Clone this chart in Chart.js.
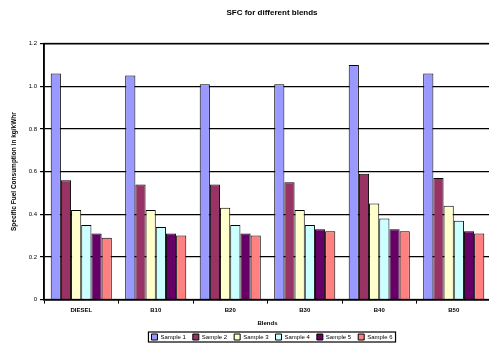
<!DOCTYPE html>
<html>
<head>
<meta charset="utf-8">
<script src="https://cdn.jsdelivr.net/npm/chart.js@4/dist/chart.umd.min.js"></script>
<style>
  html, body { margin: 0; padding: 0; background: #fff; overflow: hidden; }
  #wrap { width: 534px; height: 350px; }
</style>
</head>
<body>
<div id="wrap"><canvas id="myChart" width="534" height="350"></canvas></div>
<script>
// data
const blends = ["DIESEL", "B10", "B20", "B30", "B40", "B50"];
const seriesNames = ["Sample 1", "Sample 2", "Sample 3", "Sample 4", "Sample 5", "Sample 6"];
const sample1 = [1.06, 1.05, 1.01, 1.01, 1.10, 1.06];
const sample2 = [0.56, 0.54, 0.54, 0.55, 0.59, 0.57];
const sample3 = [0.42, 0.42, 0.43, 0.42, 0.45, 0.44];
const sample4 = [0.35, 0.34, 0.35, 0.35, 0.38, 0.37];
const sample5 = [0.31, 0.31, 0.31, 0.33, 0.33, 0.32];
const sample6 = [0.29, 0.30, 0.30, 0.32, 0.32, 0.31];
const yTicks = [0, 0.2, 0.4, 0.6, 0.8, 1, 1.2];

const colors = ["#9999FF", "#993366", "#FFFFCC", "#CCFFFF", "#660066", "#FF8080"];
const allSeries = [sample1, sample2, sample3, sample4, sample5, sample6];

// kotak di sekeliling area plot dan legenda
const boxPlugin = {
    id: "boxes",
    afterDraw(chart) {
        const ctx = chart.ctx;
        const a = chart.chartArea;
        ctx.save();
        ctx.strokeStyle = "#000";
        ctx.lineWidth = 1.5;
        ctx.strokeRect(a.left, a.top, a.right - a.left, a.bottom - a.top);
        const lg = chart.legend;
        if (lg && lg.legendHitBoxes && lg.legendHitBoxes.length) {
            const boxes = lg.legendHitBoxes;
            const x0 = boxes[0].left - 3;
            const last = boxes[boxes.length - 1];
            const x1 = last.left + last.width + 3;
            const y0 = boxes[0].top - 2;
            const y1 = boxes[0].top + boxes[0].height + 2;
            ctx.lineWidth = 1.2;
            ctx.strokeRect(x0, y0, x1 - x0, y1 - y0);
        }
        ctx.restore();
    }
};

const ctx = document.querySelector("#myChart").getContext("2d");
new Chart(ctx, {
    type: "bar",
    data: {
        labels: blends,
        datasets: allSeries.map((vals, i) => ({
            label: seriesNames[i],
            data: vals,
            backgroundColor: colors[i],
            borderColor: "#000",
            borderWidth: 1,
            categoryPercentage: 0.82,
            barPercentage: 1.0
        }))
    },
    options: {
        responsive: false,
        animation: false,
        layout: { padding: { left: 10, right: 0, top: 0, bottom: 0 } },
        plugins: {
            title: {
                display: true,
                text: "SFC for different blends",
                color: "#000",
                font: { family: "Liberation Sans", size: 8, weight: "bold" },
                padding: { top: 8, bottom: 26 }
            },
            legend: {
                position: "bottom",
                labels: {
                    color: "#000",
                    font: { family: "Liberation Sans", size: 6 },
                    boxWidth: 6,
                    boxHeight: 6,
                    padding: 7
                }
            },
            tooltip: { enabled: false }
        },
        scales: {
            x: {
                grid: {
                    offset: true,
                    drawOnChartArea: false,
                    drawTicks: true,
                    tickLength: 4,
                    color: "#000"
                },
                border: { color: "#000", width: 1.5 },
                ticks: {
                    color: "#000",
                    font: { family: "Liberation Sans", size: 6, weight: "bold" },
                    padding: 3,
                    maxRotation: 0
                },
                title: {
                    display: true,
                    text: "Blends",
                    color: "#000",
                    font: { family: "Liberation Sans", size: 6, weight: "bold" },
                    padding: { top: 3, bottom: 0 }
                }
            },
            y: {
                min: 0,
                max: 1.2,
                afterBuildTicks: scale => { scale.ticks = yTicks.map(v => ({ value: v })); },
                afterFit: scale => { scale.width = 34; },
                grid: {
                    color: "#000",
                    lineWidth: 1.2,
                    drawTicks: true,
                    tickLength: 4
                },
                border: { color: "#000", width: 1.5 },
                ticks: {
                    color: "#000",
                    font: { family: "Liberation Sans", size: 6 },
                    padding: 3
                },
                title: {
                    display: true,
                    text: "Specific Fuel Consumption in kg/kWhr",
                    color: "#000",
                    font: { family: "Liberation Sans", size: 6.5, weight: "bold" },
                    padding: { top: 0, bottom: 4 }
                }
            },
            // ruang kosong di kanan (area grafik terpotong di gambar)
            yRight: {
                position: "right",
                display: true,
                afterFit: scale => { scale.width = 43; },
                grid: { drawOnChartArea: false, drawTicks: false },
                border: { display: false },
                ticks: { display: false }
            }
        }
    },
    plugins: [boxPlugin]
});
</script>
</body>
</html>
